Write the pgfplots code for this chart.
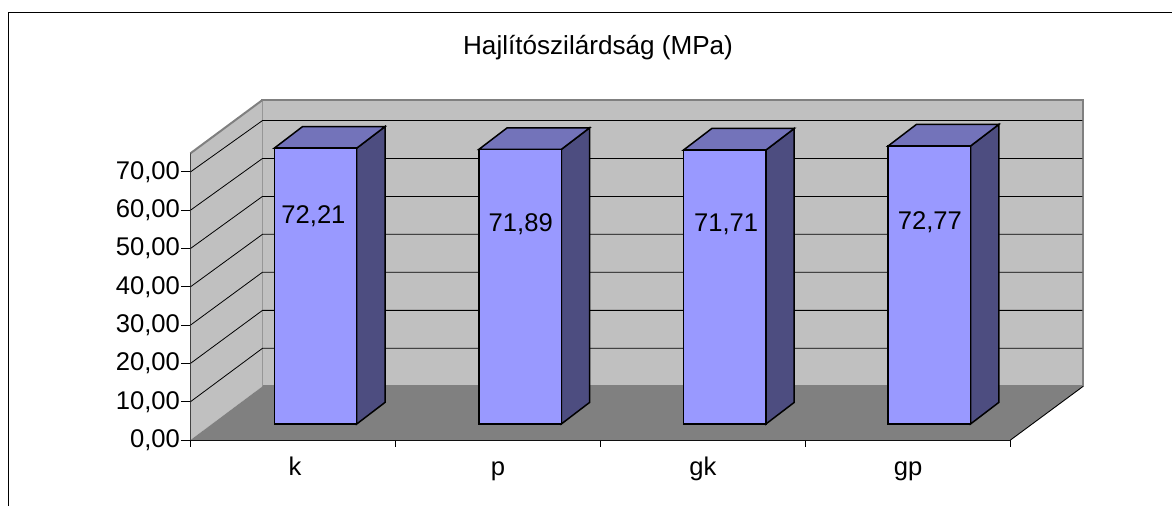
\documentclass[border=0pt]{standalone}
\usepackage{fontspec}
\setmainfont{Liberation Sans}
\usepackage{pgfplots}
\pgfplotsset{compat=1.18}
\definecolor{wall}{HTML}{C0C0C0}
\definecolor{floorc}{HTML}{808080}
\definecolor{barf}{HTML}{9999FF}
\definecolor{bars}{HTML}{4D4D80}
\definecolor{bart}{HTML}{7373BA}
\newcommand{\fs}{\fontsize{25.6}{29}\selectfont}
\begin{document}
\begin{tikzpicture}[x=1pt,y=1pt]
\path[use as bounding box] (0,0) rectangle (1172,506);
\draw[black,line width=1.4pt] (8.5,0) -- (8.5,493.7) -- (1172,493.7);
\begin{axis}[
  at={(190.5pt,66pt)}, anchor=origin,
  x=205pt, y=3.83pt,
  xmin=0, xmax=4, ymin=0, ymax=74.86,
  clip=false,
  axis lines=left,
  axis line style={-, black, line width=0.9pt},
  ytick={0,10,...,70},
  xtick={0.51,1.5,2.5,3.5},
  xticklabels={k,p,gk,gp},
  minor xtick={0,1,2,3,4},
  major tick length=9pt,
  tick style={black,line width=0.8pt},
  xtick style={draw=none},
  minor tick length=6.5pt,
  minor x tick style={draw=black,line width=0.8pt},
  tick align=outside,
  yticklabel style={xshift=2pt,/pgf/number format/.cd,fixed,fixed zerofill,precision=2,use comma,assume math mode=true},
  ticklabel style={font=\fs},
  xticklabel style={yshift=-5pt,text height=18pt,text depth=5.5pt},
  title={Hajlítószilárdság (MPa)},
  title style={at={(axis cs:1.988,101)},anchor=center,font=\fontsize{26.1}{30}\selectfont},
  axis on top=false,
]
% walls and floor
\addplot[fill=wall,draw=floorc,line width=2pt] coordinates {(0.351,14) (0.351,88.77) (4.354,88.77) (4.354,14)} --cycle;
\addplot[fill=wall,draw=none] coordinates {(0,0) (0,74.86) (0.351,88.77) (0.351,14)} --cycle;
\addplot[draw=floorc,line width=2pt] coordinates {(0,74.86) (0.351,88.77)};
\addplot[fill=floorc,draw=none] coordinates {(0,0) (0.351,14) (4.354,14) (4,0)} --cycle;
\addplot[black,line width=0.9pt] coordinates {(4,0) (4.354,14)};
% gridlines, side wall then back wall
\addplot[black,line width=0.8pt] coordinates {(0,10) (0.351,23.94) (4.35,23.94)};
\addplot[black,line width=0.8pt] coordinates {(0,20) (0.351,33.84) (4.35,33.84)};
\addplot[black,line width=0.8pt] coordinates {(0,30) (0.351,43.8) (4.35,43.8)};
\addplot[black,line width=0.8pt] coordinates {(0,40) (0.351,53.7) (4.35,53.7)};
\addplot[black,line width=0.8pt] coordinates {(0,50) (0.351,63.6) (4.35,63.6)};
\addplot[black,line width=0.8pt] coordinates {(0,60) (0.351,73.5) (4.35,73.5)};
\addplot[black,line width=0.8pt] coordinates {(0,70) (0.351,83.4) (4.35,83.4)};
\end{axis}
\begin{axis}[
  at={(213.2pt,82pt)}, anchor=origin,
  x=204.6pt, y=3.82pt,
  xmin=0, xmax=4, ymin=0, ymax=80,
  clip=false,
  axis lines=none,
]
% k
\addplot[fill=bars,draw=black,line width=1.5pt] coordinates {(0.7014,0) (0.8397,5.65) (0.8397,77.86) (0.7014,72.21)} --cycle;
\addplot[fill=bart,draw=black,line width=1.5pt] coordinates {(0.2986,72.21) (0.4369,77.86) (0.8397,77.86) (0.7014,72.21)} --cycle;
% p
\addplot[fill=bars,draw=black,line width=1.5pt] coordinates {(1.7014,0) (1.8397,5.65) (1.8397,77.54) (1.7014,71.89)} --cycle;
\addplot[fill=bart,draw=black,line width=1.5pt] coordinates {(1.2986,71.89) (1.4369,77.54) (1.8397,77.54) (1.7014,71.89)} --cycle;
% gk
\addplot[fill=bars,draw=black,line width=1.5pt] coordinates {(2.7014,0) (2.8397,5.65) (2.8397,77.36) (2.7014,71.71)} --cycle;
\addplot[fill=bart,draw=black,line width=1.5pt] coordinates {(2.2986,71.71) (2.4369,77.36) (2.8397,77.36) (2.7014,71.71)} --cycle;
% gp
\addplot[fill=bars,draw=black,line width=1.5pt] coordinates {(3.7014,0) (3.8397,5.65) (3.8397,78.42) (3.7014,72.77)} --cycle;
\addplot[fill=bart,draw=black,line width=1.5pt] coordinates {(3.2986,72.77) (3.4369,78.42) (3.8397,78.42) (3.7014,72.77)} --cycle;
% front faces
\addplot[ybar,bar width=82.4pt,fill=barf,draw=black,line width=1.5pt] coordinates {(0.5,72.21) (1.5,71.89) (2.5,71.71) (3.5,72.77)};
\node[font=\fs,anchor=base] at (axis cs:0.49,52.4) {72,21};
\node[font=\fs,anchor=base] at (axis cs:1.503,50.5) {71,89};
\node[font=\fs,anchor=base] at (axis cs:2.507,50.5) {71,71};
\node[font=\fs,anchor=base] at (axis cs:3.503,51) {72,77};
\end{axis}
\end{tikzpicture}
\end{document}
